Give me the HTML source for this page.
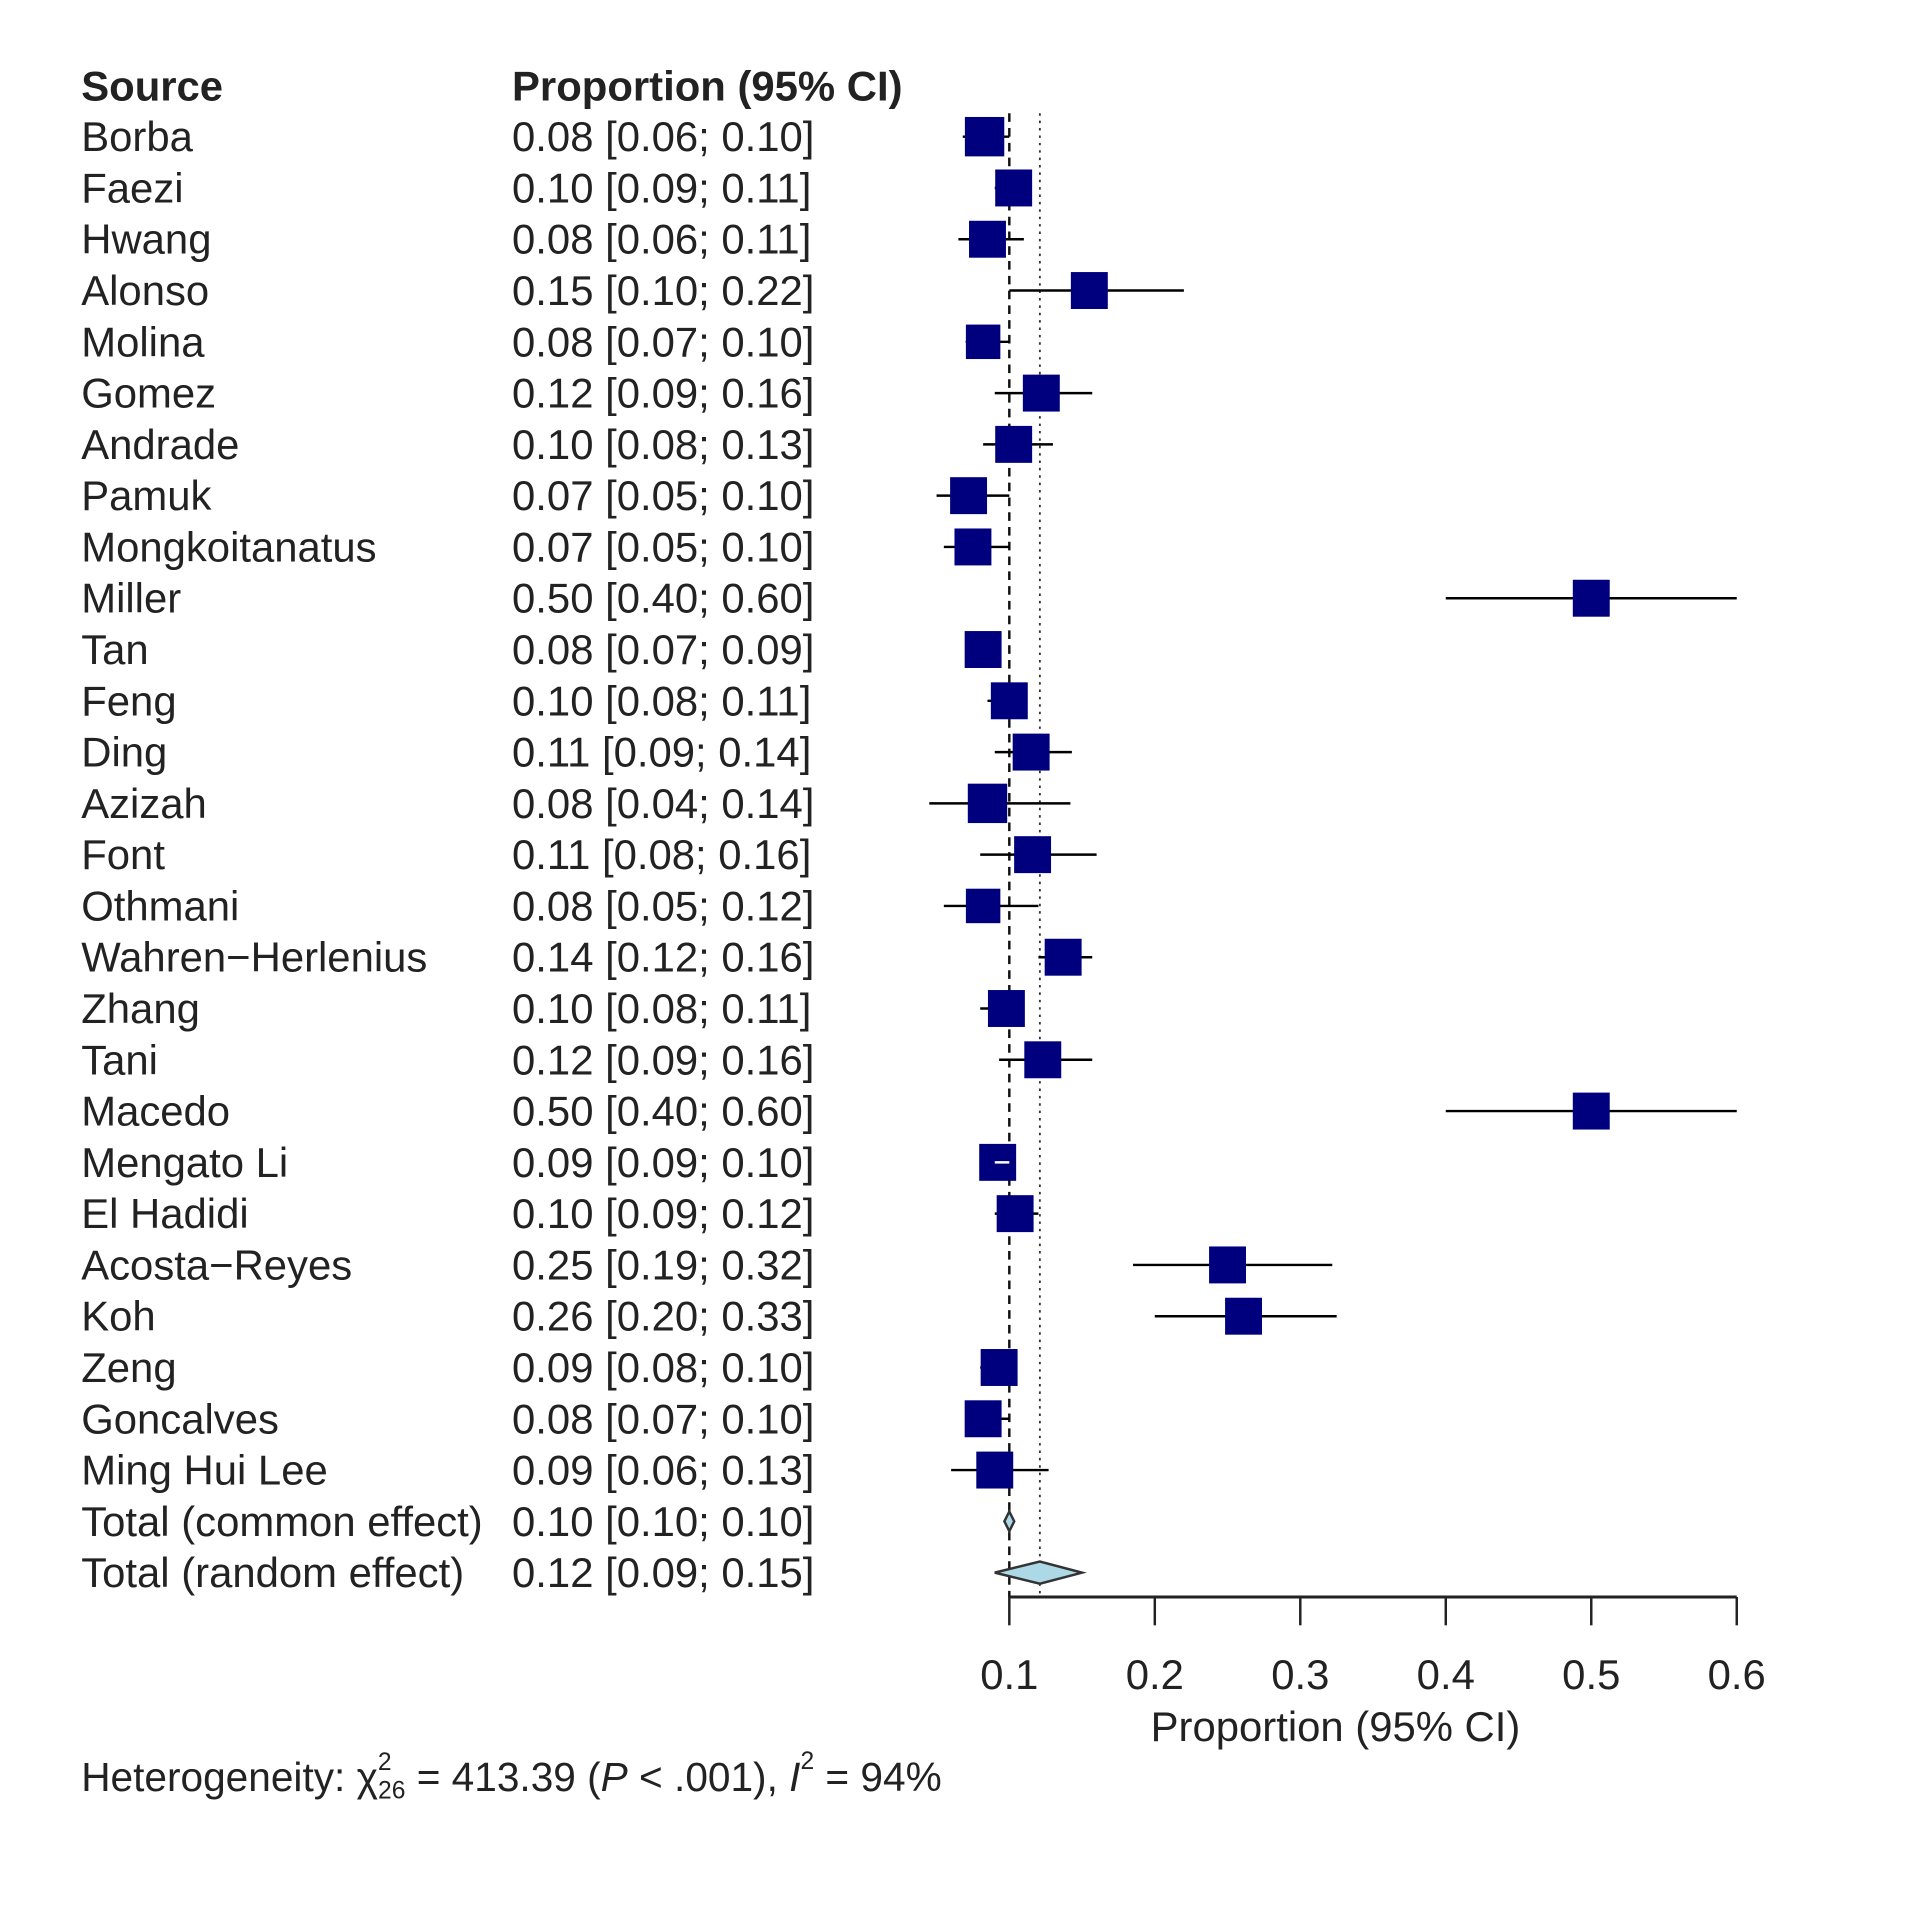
<!DOCTYPE html>
<html><head><meta charset="utf-8"><style>
html,body{margin:0;padding:0;background:#fff;}
svg{display:block;}
text{font-family:"Liberation Sans",Arial,sans-serif;fill:#222;}
</style></head><body>
<svg id="chart" width="1930" height="1927" viewBox="0 0 1568 1565" preserveAspectRatio="none" xmlns="http://www.w3.org/2000/svg">
<g id="g"></g>
</svg>
<script>
const studies = ["Borba","Faezi","Hwang","Alonso","Molina","Gomez","Andrade","Pamuk","Mongkoitanatus","Miller","Tan","Feng","Ding","Azizah","Font","Othmani","Wahren\u2212Herlenius","Zhang","Tani","Macedo","Mengato Li","El Hadidi","Acosta\u2212Reyes","Koh","Zeng","Goncalves","Ming Hui Lee"];
const est = [0.083,0.103,0.085,0.155,0.082,0.122,0.103,0.072,0.075,0.500,0.082,0.100,0.115,0.085,0.116,0.082,0.137,0.098,0.123,0.500,0.092,0.104,0.250,0.261,0.093,0.082,0.090];
const lower = [0.068,0.09,0.065,0.10,0.07,0.09,0.082,0.05,0.055,0.40,0.07,0.085,0.09,0.045,0.08,0.055,0.12,0.08,0.093,0.40,0.09,0.09,0.185,0.20,0.08,0.07,0.06];
const upper = [0.10,0.11,0.11,0.22,0.10,0.157,0.13,0.10,0.10,0.60,0.09,0.11,0.143,0.142,0.16,0.12,0.157,0.11,0.157,0.60,0.10,0.12,0.322,0.325,0.10,0.10,0.127];
const labels = ["0.08 [0.06; 0.10]","0.10 [0.09; 0.11]","0.08 [0.06; 0.11]","0.15 [0.10; 0.22]","0.08 [0.07; 0.10]","0.12 [0.09; 0.16]","0.10 [0.08; 0.13]","0.07 [0.05; 0.10]","0.07 [0.05; 0.10]","0.50 [0.40; 0.60]","0.08 [0.07; 0.09]","0.10 [0.08; 0.11]","0.11 [0.09; 0.14]","0.08 [0.04; 0.14]","0.11 [0.08; 0.16]","0.08 [0.05; 0.12]","0.14 [0.12; 0.16]","0.10 [0.08; 0.11]","0.12 [0.09; 0.16]","0.50 [0.40; 0.60]","0.09 [0.09; 0.10]","0.10 [0.09; 0.12]","0.25 [0.19; 0.32]","0.26 [0.20; 0.33]","0.09 [0.08; 0.10]","0.08 [0.07; 0.10]","0.09 [0.06; 0.13]"];
const weights = [32,30,30,30,28,30,30,30,30,30,30,30,30,32,30,28,30,30,30,30,30,30,30,30,30,30,30];
const totalNames = ["Total (common effect)","Total (random effect)"];
const totalEst = [0.100,0.121];
const totalLower = [0.099,0.09];
const totalUpper = [0.101,0.15];
const totalLabels = ["0.10 [0.10; 0.10]","0.12 [0.09; 0.15]"];
const ticks = [0.1,0.2,0.3,0.4,0.5,0.6];

const NS="http://www.w3.org/2000/svg";
const g=document.getElementById('g');
const xs=v=>820+(v-0.1)*1182;
const ys=i=>111+i*41.65;
function el(tag,attrs,parent){const e=document.createElementNS(NS,tag);for(const k in attrs)e.setAttribute(k,attrs[k]);(parent||g).appendChild(e);return e;}
function txt(x,y,s,size,weight,anchor){const t=el('text',{x:x,y:y,'font-size':size,'font-weight':weight||'normal','text-anchor':anchor||'start','dominant-baseline':'central'});t.textContent=s;return t;}

let t;
t=txt(66,70,"Source",34,"bold");


t=txt(416,70,"Proportion (95% CI)",34,"bold");



const yTop=92, yBot=1297;
let ln=el('line',{x1:xs(totalEst[0]),x2:xs(totalEst[0]),y1:yTop,y2:yBot,stroke:'#111','stroke-width':2,'stroke-dasharray':'7,5'});


ln=el('line',{x1:xs(totalEst[1]),x2:xs(totalEst[1]),y1:yTop,y2:yBot,stroke:'#333','stroke-width':1.5,'stroke-dasharray':'2,4'});



studies.forEach((s,i)=>{
  const y=ys(i);
  let a=txt(66,y,s,34);
  
  
  let b=txt(416,y,labels[i],34);
  
  
  let l=el('line',{x1:xs(lower[i]),x2:xs(upper[i]),y1:y,y2:y,stroke:'#000','stroke-width':2});
  
  
  const w=weights[i];
  let r=el('rect',{x:xs(est[i])-w/2,y:y-w/2,width:w,height:w,fill:'#00007f'});
  
  
  if(i===20){
    let wl=el('line',{x1:xs(lower[i]),x2:xs(upper[i]),y1:y,y2:y,stroke:'#fff','stroke-width':2});
    
    
  }
});

totalNames.forEach((s,j)=>{
  const y=ys(27+j);
  let a=txt(66,y,s,34);
  
  
  let b=txt(416,y,totalLabels[j],34);
  
  
  const h=j===0?8:9;
  let lx=xs(totalLower[j]), ux=xs(totalUpper[j]), cx=xs(totalEst[j]);
  if(j===0){lx=cx-4;ux=cx+4;}
  let d=el('polygon',{points:`${lx},${y} ${cx},${y-h} ${ux},${y} ${cx},${y+h}`,fill:'#add8e6',stroke:'#333','stroke-width':2});
  
  
});

let ax=el('line',{x1:xs(0.1),x2:xs(0.6),y1:1297,y2:1297,stroke:'#222','stroke-width':2.5});


ticks.forEach(v=>{
  let tk=el('line',{x1:xs(v),x2:xs(v),y1:1297,y2:1320,stroke:'#222','stroke-width':2});
  
  
  let tl=txt(xs(v),1360,v.toFixed(1),34,'normal','middle');
  
  
});
t=txt(1085,1402,"Proportion (95% CI)",34,'normal','middle');



const ht=el('text',{x:66,y:1443,'font-size':33,'dominant-baseline':'central'});


ht.innerHTML='Heterogeneity: χ<tspan font-size="20" dy="-12">2</tspan><tspan font-size="20" dx="-11" dy="23">26</tspan><tspan dy="-11"> = 413.39 (</tspan><tspan font-style="italic">P</tspan> &lt; .001), <tspan font-style="italic">I</tspan><tspan font-size="20" dy="-13">2</tspan><tspan dy="13"> = 94%</tspan>';
</script>
</body></html>
